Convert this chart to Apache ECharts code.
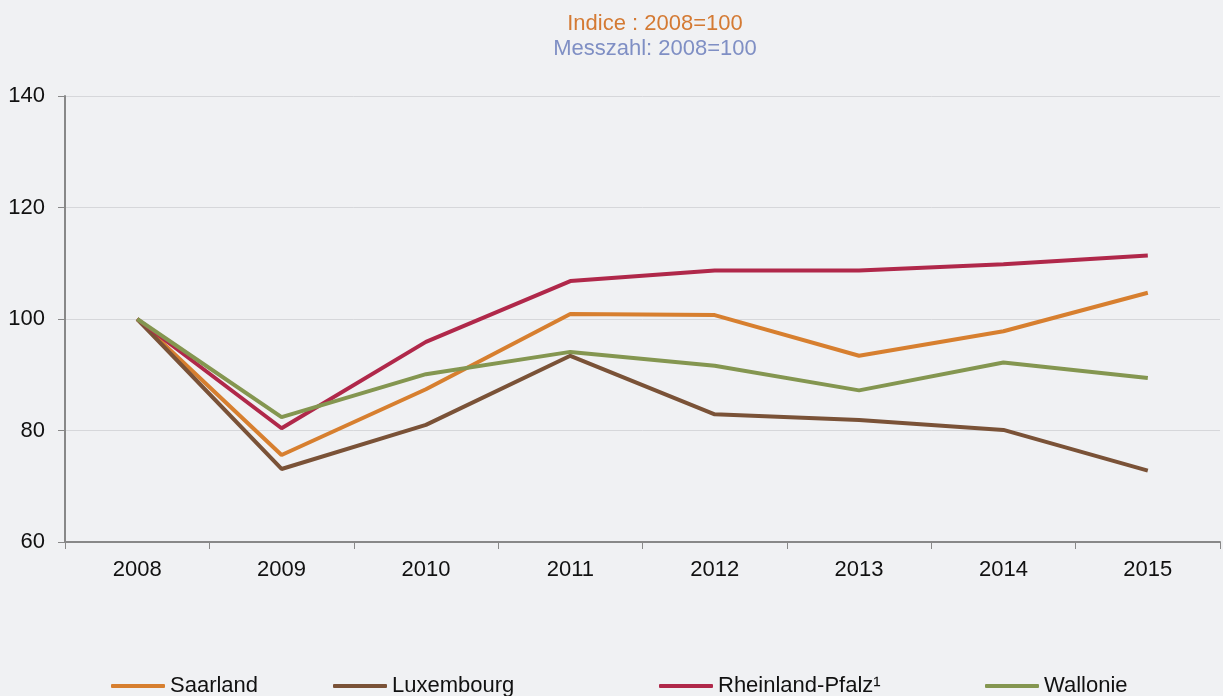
<!DOCTYPE html>
<html>
<head>
<meta charset="utf-8">
<script src="https://cdn.jsdelivr.net/npm/echarts@6/dist/echarts.min.js"></script>
<style>
  html, body { margin: 0; padding: 0; background: #f0f1f3; }
  #main { width: 1223px; height: 696px; }
</style>
</head>
<body>
<div id="main"></div>
<script>
// jahre / années
var years = ['2008', '2009', '2010', '2011', '2012', '2013', '2014', '2015'];

var saarland     = [100, 75.6, 87.4, 100.9, 100.7, 93.4, 97.8, 104.7];
var luxembourg   = [100, 73.1, 81.0, 93.4, 82.9, 81.9, 80.1, 72.8];
var rheinland    = [100, 80.4, 95.9, 106.8, 108.7, 108.7, 109.8, 111.4];
var wallonie     = [100, 82.4, 90.1, 94.1, 91.6, 87.2, 92.2, 89.4];

var seriesNames  = ['Saarland', 'Luxembourg', 'Rheinland-Pfalz', 'Wallonie'];
var seriesColors = ['#d77f2f', '#7a5237', '#b0284a', '#849650'];
var legendLeft   = [106, 328, 654, 980];

var FONT = 'Liberation Sans, Arial, sans-serif';

var myChart = echarts.init(document.getElementById('main'));

var legends = [];
for (var i = 0; i < seriesNames.length; i++) {
    legends.push({
        data: [seriesNames[i]],
        left: legendLeft[i],
        top: 670,
        itemWidth: 54,
        itemHeight: 4,
        itemGap: 0,
        icon: 'roundRect',
        textStyle: { color: '#111', fontSize: 22, fontFamily: FONT },
        formatter: function (name) {
            return name === 'Rheinland-Pfalz' ? name + '\u00b9' : name;
        }
    });
}

var data = [saarland, luxembourg, rheinland, wallonie];
var series = [];
for (var j = 0; j < seriesNames.length; j++) {
    series.push({
        name: seriesNames[j],
        type: 'line',
        data: data[j],
        symbol: 'none',
        lineStyle: { width: 4, color: seriesColors[j] },
        itemStyle: { color: seriesColors[j] }
    });
}

var option = {
    backgroundColor: '#f0f1f3',
    animation: false,
    title: {
        text: 'Indice : 2008=100',
        subtext: 'Messzahl: 2008=100',
        left: 650,
        textAlign: 'center',
        top: 8,
        itemGap: 3,
        textStyle: { color: '#d47a33', fontSize: 22, fontWeight: 'normal', fontFamily: FONT },
        subtextStyle: { color: '#7f8fc4', fontSize: 22, fontFamily: FONT }
    },
    legend: legends,
    grid: { left: 65, right: 3, top: 96, bottom: 154 },
    xAxis: {
        type: 'category',
        data: years,
        boundaryGap: true,
        axisLine: { lineStyle: { color: '#888', width: 2 } },
        axisTick: { show: true, length: 7, lineStyle: { color: '#888', width: 1 } },
        axisLabel: { color: '#111', fontSize: 22, margin: 17, fontFamily: FONT }
    },
    yAxis: {
        type: 'value',
        min: 60,
        max: 140,
        interval: 20,
        axisLine: { show: true, lineStyle: { color: '#888', width: 2 } },
        axisTick: { show: true, length: 7, lineStyle: { color: '#888', width: 1 } },
        axisLabel: { color: '#111', fontSize: 22, margin: 20, fontFamily: FONT },
        splitLine: { lineStyle: { color: '#d6d7da', width: 1 } }
    },
    series: series
};

myChart.setOption(option);
</script>
</body>
</html>
